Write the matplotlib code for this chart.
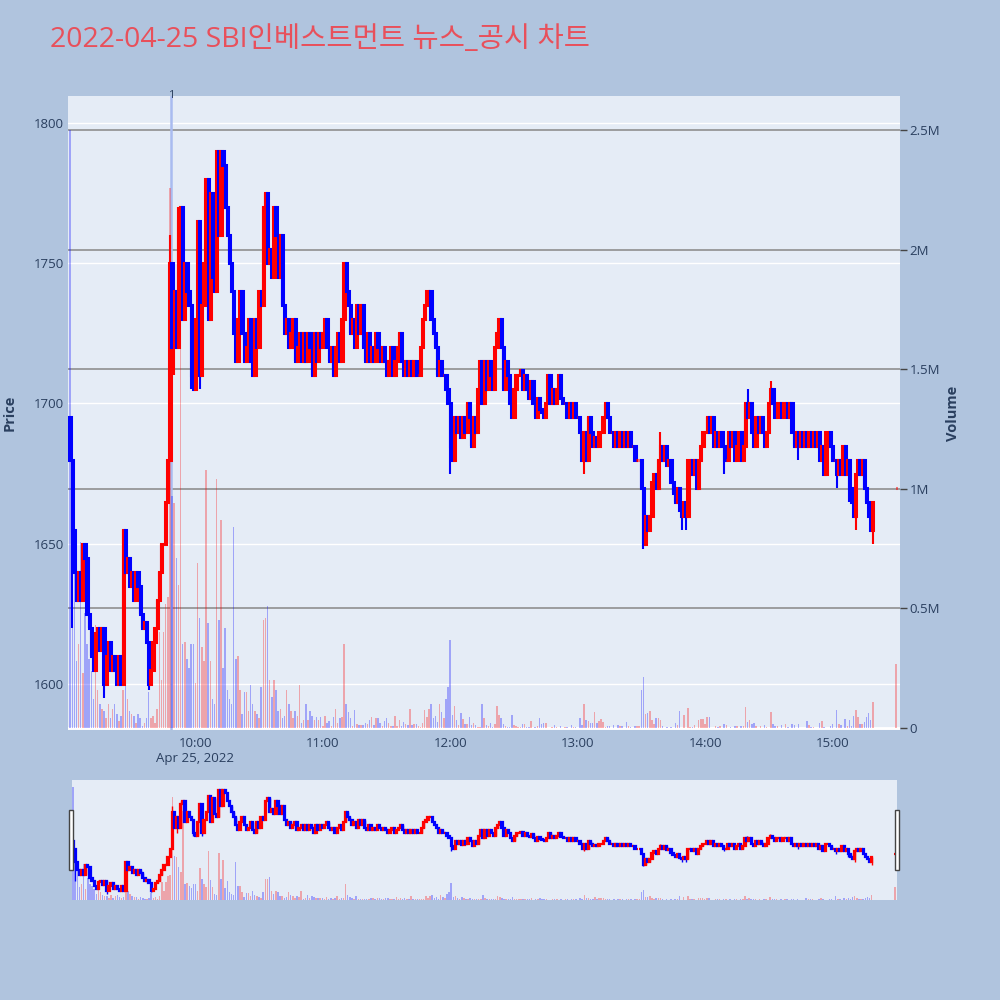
import matplotlib
matplotlib.use("Agg")
import matplotlib.pyplot as plt
import matplotlib.transforms as mtransforms
from matplotlib.patches import Rectangle
import numpy as np

plt.rcParams['font.family'] = ['Open Sans', 'Noto Sans CJK KR', 'DejaVu Sans']

TITLE = "2022-04-25 SBI인베스트먼트 뉴스_공시 차트"

# one candle per minute from 09:01, close prices
OPEN_FIRST = 1695
CLOSE = [
    1680, 1655, 1640, 1630, 1640, 1630, 1650, 1645, 1625, 1620,
    1610, 1605, 1618, 1620, 1612, 1620, 1600, 1610, 1615, 1605,
    1610, 1605, 1600, 1610, 1600, 1655, 1640, 1645, 1635, 1640,
    1630, 1640, 1635, 1625, 1620, 1622, 1615, 1600, 1605, 1615,
    1620, 1630, 1640, 1650, 1650, 1665, 1680, 1750, 1720, 1740,
    1720, 1765, 1770, 1730, 1750, 1740, 1735, 1710, 1705, 1730,
    1765, 1710, 1735, 1750, 1780, 1730, 1775, 1745, 1740, 1790,
    1760, 1790, 1785, 1770, 1760, 1750, 1740, 1725, 1715, 1730,
    1740, 1725, 1715, 1720, 1730, 1715, 1710, 1730, 1720, 1740,
    1735, 1770, 1775, 1750, 1755, 1745, 1770, 1760, 1745, 1760,
    1735, 1725, 1730, 1720, 1725, 1730, 1715, 1720, 1725, 1715,
    1725, 1715, 1725, 1720, 1710, 1725, 1715, 1725, 1720, 1725,
    1730, 1720, 1715, 1720, 1710, 1720, 1725, 1715, 1730, 1750,
    1740, 1735, 1725, 1730, 1720, 1735, 1725, 1735, 1720, 1715,
    1725, 1715, 1720, 1715, 1725, 1720, 1715, 1720, 1715, 1710,
    1715, 1720, 1710, 1715, 1720, 1725, 1715, 1710, 1715, 1710,
    1715, 1710, 1715, 1710, 1710, 1720, 1730, 1735, 1740, 1740,
    1730, 1725, 1720, 1710, 1715, 1710, 1710, 1705, 1700, 1685,
    1680, 1695, 1690, 1695, 1688, 1695, 1690, 1700, 1695, 1685,
    1695, 1690, 1705, 1715, 1700, 1715, 1705, 1715, 1710, 1705,
    1720, 1725, 1730, 1720, 1705, 1715, 1710, 1700, 1695, 1705,
    1710, 1710, 1712, 1705, 1710, 1705, 1702, 1708, 1700, 1695,
    1702, 1698, 1697, 1695, 1700, 1710, 1700, 1705, 1700, 1705,
    1710, 1702, 1700, 1700, 1695, 1700, 1695, 1700, 1695, 1695,
    1690, 1680, 1690, 1680, 1695, 1690, 1685, 1688, 1685, 1690,
    1690, 1695, 1700, 1695, 1690, 1690, 1685, 1690, 1685, 1690,
    1685, 1690, 1685, 1690, 1685, 1685, 1680, 1680, 1680, 1670,
    1650, 1660, 1655, 1660, 1672, 1675, 1670, 1680, 1685, 1680,
    1685, 1678, 1680, 1672, 1668, 1665, 1670, 1662, 1660, 1665,
    1660, 1680, 1680, 1675, 1680, 1670, 1680, 1685, 1690, 1690,
    1695, 1690, 1695, 1685, 1690, 1685, 1690, 1685, 1680, 1680,
    1690, 1685, 1690, 1680, 1685, 1690, 1680, 1685, 1700, 1695,
    1700, 1690, 1685, 1695, 1690, 1695, 1690, 1685, 1690, 1700,
    1705, 1700, 1695, 1700, 1700, 1695, 1700, 1700, 1695, 1700,
    1690, 1685, 1690, 1685, 1690, 1685, 1690, 1685, 1690, 1685,
    1690, 1685, 1690, 1680, 1685, 1675, 1690, 1690, 1685, 1680,
    1680, 1675, 1680, 1675, 1685, 1675, 1680, 1670, 1665, 1660,
    1675, 1680, 1675, 1680, 1670, 1665, 1660, 1655, 1665,
]

# volume in thousands of shares, same minutes
VOLUME_K = [
    2500, 830, 780, 280, 350, 780, 230, 480, 350, 290,
    240, 120, 430, 160, 100, 80, 70, 40, 100, 40,
    80, 100, 60, 30, 50, 160, 180, 120, 70, 60,
    50, 20, 60, 40, 10, 20, 40, 150, 40, 50,
    20, 80, 400, 200, 400, 520, 550, 2260, 970, 940,
    710, 600, 1950, 350, 360, 290, 250, 350, 350, 190,
    690, 460, 340, 280, 1080, 440, 280, 120, 100, 1040,
    450, 870, 250, 420, 160, 120, 100, 840, 290, 300,
    160, 60, 150, 150, 70, 180, 100, 70, 60, 40,
    170, 450, 460, 510, 200, 130, 200, 160, 70, 80,
    40, 50, 160, 100, 70, 40, 70, 50, 180, 20,
    35, 100, 35, 70, 50, 35, 45, 35, 45, 10,
    50, 20, 30, 10, 45, 80, 20, 40, 46, 350,
    100, 66, 40, 7, 74, 18, 13, 14, 11, 22,
    18, 35, 46, 14, 40, 42, 20, 7, 30, 40,
    20, 7, 7, 50, 10, 35, 7, 26, 18, 13,
    80, 14, 18, 18, 7, 4, 20, 77, 46, 80,
    100, 40, 50, 24, 100, 66, 40, 120, 170, 370,
    56, 90, 35, 14, 63, 38, 15, 15, 46, 14,
    20, 14, 4, 4, 100, 42, 14, 7, 21, 4,
    15, 91, 56, 40, 18, 8, 4, 3, 54, 14,
    7, 3, 4, 18, 18, 3, 4, 31, 1, 6,
    10, 42, 18, 21, 20, 1, 1, 4, 14, 4,
    0, 8, 0, 4, 4, 0, 14, 4, 4, 0,
    42, 14, 102, 32, 28, 21, 21, 67, 22, 29,
    36, 25, 4, 7, 7, 1, 14, 1, 14, 10,
    7, 1, 24, 7, 6, 1, 8, 7, 10, 160,
    212, 60, 64, 73, 35, 18, 42, 42, 35, 10,
    1, 6, 1, 6, 1, 21, 14, 70, 1, 56,
    1, 85, 4, 4, 14, 1, 32, 38, 39, 18,
    46, 45, 1, 1, 7, 4, 7, 1, 17, 14,
    1, 4, 1, 7, 8, 1, 7, 10, 86, 24,
    35, 15, 21, 7, 1, 7, 1, 14, 4, 1,
    66, 18, 10, 7, 1, 11, 1, 17, 4, 1,
    15, 14, 1, 17, 1, 1, 1, 29, 14, 4,
    3, 1, 1, 21, 31, 4, 1, 1, 7, 18,
    1, 74, 18, 14, 1, 38, 7, 33, 8, 50,
    77, 46, 17, 15, 24, 46, 61, 32, 109,
]

# closing auction at 15:30
AUCTION_MIN = 390
AUCTION_PRICE = 1670
AUCTION_VOL_K = 268

# wicks beyond the body (minute -> price)
WICK_HIGH = {1: 1695, 48: 1760, 52: 1770, 279: 1690, 320: 1705, 331: 1708}
WICK_LOW = {2: 1620, 17: 1595, 38: 1598, 50: 1710, 58: 1705, 62: 1705,
            180: 1675, 243: 1675, 271: 1648, 289: 1655, 291: 1655,
            309: 1675, 344: 1680, 362: 1670, 368: 1665, 371: 1655, 379: 1650}

NEWS_MIN = [48.5]
NEWS_LABELS = ['1']

TICK_MIN = [60, 120, 180, 240, 300, 360]
TICK_LABELS = ['10:00', '11:00', '12:00', '13:00', '14:00', '15:00']
PRICE_TICKS = [1600, 1650, 1700, 1750, 1800]
VOL_TICKS = [0, 0.5e6, 1e6, 1.5e6, 2e6, 2.5e6]
VOL_LABELS = ['0', '0.5M', '1M', '1.5M', '2M', '2.5M']

RED = '#FF0000'
BLUE = '#0000FF'
BG = '#B0C4DE'
PLOT_BG = '#E5ECF6'
TXT = '#2a3f5f'

minutes = np.arange(1, len(CLOSE) + 1).tolist() + [AUCTION_MIN]
close = np.array(CLOSE + [AUCTION_PRICE], dtype=float)
opn = np.array([OPEN_FIRST] + CLOSE[:-1] + [AUCTION_PRICE], dtype=float)
high = np.maximum(opn, close)
low = np.minimum(opn, close)
for m, v in WICK_HIGH.items():
    high[m - 1] = max(high[m - 1], v)
for m, v in WICK_LOW.items():
    low[m - 1] = min(low[m - 1], v)
vol = np.array(VOLUME_K + [AUCTION_VOL_K], dtype=float) * 1000
t = np.array(minutes, dtype=float)
up = close >= opn
cols = np.where(up, RED, BLUE)

XLIM = (0, 391.8)
PLIM = (1583.6, 1809.6)
VLIM = (-0.0084e6, 2.644e6)


def draw(ax_v, ax_p, lw, body_lw, vol_w):
    ax_v.bar(t, vol, width=vol_w, color=cols, alpha=0.3, linewidth=0, zorder=2)
    ax_p.vlines(t, low, high, colors=cols, lw=lw, zorder=3)
    ax_p.bar(t, close - opn, bottom=opn, width=0.6, color=cols,
             edgecolor=cols, linewidth=body_lw, zorder=3)
    ax_v.set_xlim(*XLIM)
    ax_v.set_ylim(*VLIM)
    ax_p.set_ylim(*PLIM)
    ax_v.set_facecolor(PLOT_BG)
    for a in (ax_v, ax_p):
        for s in a.spines.values():
            s.set_visible(False)


fig = plt.figure(figsize=(10, 10), dpi=100, facecolor=BG)

ax_v = fig.add_axes([0.068, 0.270, 0.832, 0.634])
ax_p = ax_v.twinx()

# grid: price (white) and volume (gray), under the marks
blend = mtransforms.blended_transform_factory(ax_v.transAxes, ax_p.transData)
for p in PRICE_TICKS:
    ax_v.plot([0, 1], [p, p], color='white', lw=1, transform=blend, zorder=0)
for v in VOL_TICKS[1:]:
    ax_v.axhline(v, color='#8f8f8f', lw=1.2, zorder=1)
ax_v.axhline(0, color='white', lw=2, zorder=1)

draw(ax_v, ax_p, lw=1.5, body_lw=2.2, vol_w=0.7)

for m, lab in zip(NEWS_MIN, NEWS_LABELS):
    ax_v.axvline(m, color='#a9bbf0', lw=1.8, zorder=1.5)
    ax_p.text(m, PLIM[1], lab, ha='center', va='center', fontsize=8, color=TXT)

ax_v.yaxis.tick_right()
ax_v.set_yticks(VOL_TICKS)
ax_v.set_yticklabels(VOL_LABELS)
ax_v.tick_params(axis='y', colors='#444444', labelcolor=TXT, length=5, width=1,
                 labelsize=9.5, pad=2)
ax_v.set_xticks(TICK_MIN)
ax_v.set_xticklabels(TICK_LABELS)
ax_v.tick_params(axis='x', length=0, labelsize=9.5, labelcolor=TXT, pad=5)

ax_p.yaxis.tick_left()
ax_p.set_yticks(PRICE_TICKS)
ax_p.tick_params(axis='y', length=0, labelsize=9.5, labelcolor=TXT, pad=3)

ax_v.text(TICK_MIN[0], -0.045, 'Apr 25, 2022', transform=mtransforms.blended_transform_factory(
    ax_v.transData, ax_v.transAxes), ha='center', va='center', fontsize=9.5, color=TXT)

fig.text(0.010, 0.587, 'Price', rotation=90, ha='center', va='center',
         fontsize=10.5, fontweight='bold', color=TXT)
fig.text(0.953, 0.587, 'Volume', rotation=90, ha='center', va='center',
         fontsize=10.5, fontweight='bold', color=TXT)
fig.text(0.050, 0.960, TITLE, ha='left', va='center', fontsize=20.5, color='#E8505B')

# range slider
ax_sv = fig.add_axes([0.072, 0.100, 0.825, 0.120])
ax_sp = ax_sv.twinx()
draw(ax_sv, ax_sp, lw=1.0, body_lw=1.6, vol_w=0.7)
ax_sv.set_xlim(0.5, 391)
for a in (ax_sv, ax_sp):
    a.set_xticks([])
    a.set_yticks([])

for x0 in (0.069, 0.895):
    fig.add_artist(Rectangle((x0, 0.130), 0.004, 0.060, transform=fig.transFigure,
                             facecolor='white', edgecolor='#444444', lw=1))

fig.savefig('out.png', dpi=100, facecolor=BG)
